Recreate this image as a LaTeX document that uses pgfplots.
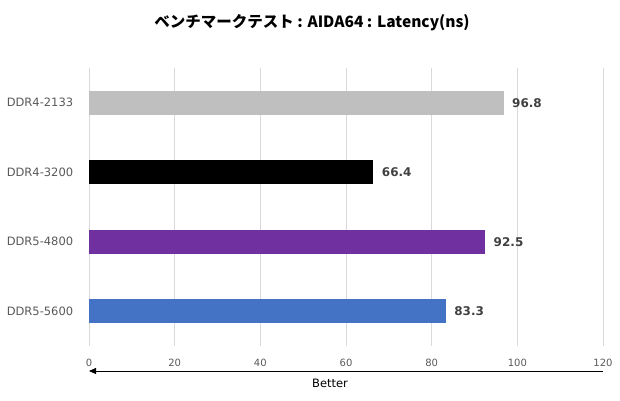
\documentclass[border=0pt]{standalone}
\usepackage{pgfplots}
\pgfplotsset{compat=1.18}
\usepackage{fontspec}
\setmainfont{DejaVu Sans}
\newfontfamily\jp{Noto Sans CJK JP}
\usetikzlibrary{arrows.meta}
\definecolor{c1}{RGB}{191,191,191}
\definecolor{c3}{RGB}{112,48,160}
\definecolor{c4}{RGB}{68,114,196}
\definecolor{txt}{RGB}{89,89,89}
\definecolor{lbl}{RGB}{64,64,64}
\definecolor{gridc}{RGB}{217,217,217}
\begin{document}
\begin{tikzpicture}[x=1pt,y=1pt]
\useasboundingbox (0,0) rectangle (620,400);
\node[font=\jp\bfseries\fontsize{15.5}{18}\selectfont] at (312,377) {ベンチマークテスト : AIDA64 : Latency(ns)};
\begin{axis}[at={(89pt,54pt)}, anchor=south west, scale only axis,
  width=514pt, height=278pt,
  xmin=0, xmax=120, ymin=-0.5, ymax=3.5,
  xtick={0,20,...,120}, ytick={0,1,2,3},
  yticklabels={DDR5-5600,DDR5-4800,DDR4-3200,DDR4-2133},
  /pgf/number format/assume math mode=true,
  xmajorgrids, grid style={draw=gridc, line width=0.8pt},
  axis lines=left, axis line style={draw=none}, tick style={draw=none},
  xticklabel style={font=\fontsize{10}{12}\selectfont, text=txt, yshift=-7pt},
  yticklabel style={font=\fontsize{11.5}{14}\selectfont, text=txt, xshift=-8pt},
  xbar, bar width=24pt, bar shift=0pt,
  nodes near coords,
  nodes near coords style={font=\bfseries\fontsize{12}{14}\selectfont, text=lbl, xshift=5pt},
  clip=false]
\addplot[fill=c1, draw=none] coordinates {(96.8,3)};
\addplot[fill=black, draw=none] coordinates {(66.4,2)};
\addplot[fill=c3, draw=none] coordinates {(92.5,1)};
\addplot[fill=c4, draw=none] coordinates {(83.3,0)};
\end{axis}
\draw[-{Triangle[length=7pt,width=6pt]}, line width=0.8pt] (603,29) -- (89,29);
\node[font=\fontsize{11.5}{13}\selectfont] at (330,17) {Better};
\end{tikzpicture}
\end{document}
